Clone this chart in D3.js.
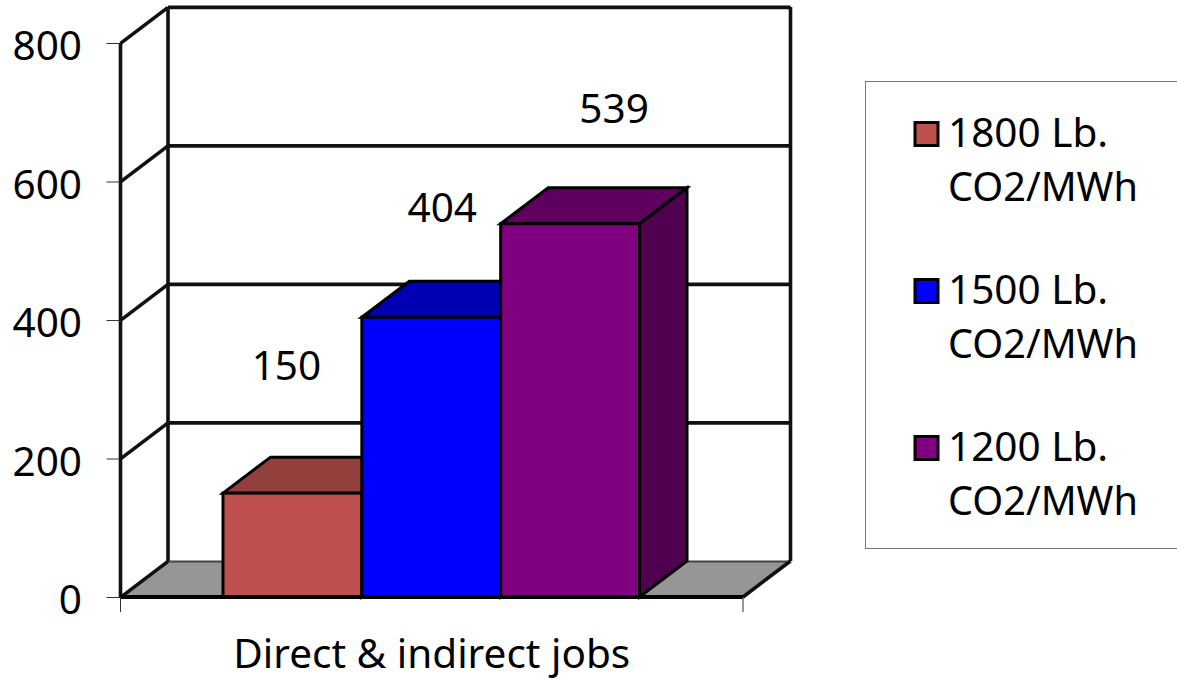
<!DOCTYPE html>
<html><head><meta charset="utf-8">
<script src="https://cdn.jsdelivr.net/npm/d3@7/dist/d3.min.js"></script>
<style>html,body{margin:0;padding:0;background:#fff}svg{display:block}text{font-family:"Noto Sans","DejaVu Sans",sans-serif;fill:#000}</style>
</head><body><svg id="c" width="1177" height="679"></svg>
<script>
const category = "Direct & indirect jobs";
const series = ["1800 Lb. CO2/MWh","1500 Lb. CO2/MWh","1200 Lb. CO2/MWh"];
const values = [150,404,539];
const yTicks = [0,200,400,600,800];
const fronts = ["#c0504d","#0000ff","#800080"];
const tops = ["#933f3c","#0000b3","#5f005f"];
const sides = ["#7d3432","#000080","#4f004f"];

const svg = d3.select("#c");
const fs = 40.5, dx = 47.5, dy = -36;
const y = d3.scaleLinear().domain([0,800]).range([597,43]);
const x0 = d3.scaleBand().domain([category]).range([120.5,743]);
const bx = d3.scaleBand().domain(series).range([223,639.5]);
const ink = "#111";
const poly = pts => pts.map(p=>p.join(",")).join(" ");
const L = x0.range()[0], R = x0.range()[1], Y0 = y(0);

// floor
svg.append("polygon").attr("points",poly([[L,Y0],[L+dx,Y0+dy],[R+dx,Y0+dy],[R,Y0]])).attr("fill","#969696");

// walls + gridlines
const wall = svg.append("g").attr("stroke",ink).attr("stroke-width",3.6).attr("fill","none");
yTicks.forEach(t=>{
  const v=y(t)+0.4;
  if(t>0) wall.append("line").attr("x1",L+dx).attr("x2",R+dx).attr("y1",v+dy).attr("y2",v+dy);
  else wall.append("line").attr("x1",L+dx).attr("x2",R+dx).attr("y1",v+dy).attr("y2",v+dy).attr("stroke-width",2).attr("stroke","#444");
  wall.append("line").attr("x1",L).attr("y1",v).attr("x2",L+dx).attr("y2",v+dy);
});
wall.append("line").attr("x1",L+dx).attr("x2",L+dx).attr("y1",y(800)+dy).attr("y2",Y0+dy);
wall.append("line").attr("x1",R+dx).attr("x2",R+dx).attr("y1",y(800)+dy).attr("y2",Y0+dy);
wall.append("line").attr("x1",L).attr("x2",L).attr("y1",y(800)).attr("y2",Y0);
wall.append("line").attr("x1",R).attr("y1",Y0).attr("x2",R+dx).attr("y2",Y0+dy);

// bars
const bars = svg.append("g").attr("stroke","#000").attr("stroke-width",3).attr("stroke-linejoin","miter");
series.forEach((s,i)=>{
  const a=bx(s), b=a+bx.bandwidth(), t=y(values[i]);
  bars.append("polygon").attr("points",poly([[a,t],[a+dx,t+dy],[b+dx,t+dy],[b,t]])).attr("fill",tops[i]);
  bars.append("polygon").attr("points",poly([[b,t],[b+dx,t+dy],[b+dx,Y0+dy],[b,Y0]])).attr("fill",sides[i]);
  bars.append("rect").attr("x",a).attr("y",t).attr("width",b-a).attr("height",Y0-t).attr("fill",fronts[i]);
});

// front baseline
svg.append("line").attr("x1",L).attr("x2",R).attr("y1",Y0).attr("y2",Y0).attr("stroke","#000").attr("stroke-width",4);

// axes
const yAxis = d3.axisLeft(y).tickValues(yTicks).tickSize(14).tickPadding(24.5).tickFormat(d3.format("d"));
const gy = svg.append("g").attr("transform",`translate(${L},0)`).call(yAxis);
gy.select(".domain").remove();
gy.selectAll("line").attr("stroke","#333").attr("stroke-width",1);
gy.selectAll("text").attr("font-size",fs).attr("dy","0.41em").style("font-family",'"Noto Sans"');

const xTickPos = [L,R];
svg.selectAll(".xt").data(xTickPos).join("line").attr("class","xt")
  .attr("x1",d=>d).attr("x2",d=>d).attr("y1",Y0).attr("y2",Y0+15).attr("stroke","#333").attr("stroke-width",1);
svg.append("text").attr("x",x0(category)+x0.bandwidth()/2).attr("y",668).attr("text-anchor","middle").attr("font-size",fs).text(category);

// data labels
const labelDX=[-6,11,44], labelDY=[-113,-95,-101];
svg.selectAll(".dl").data(values).join("text").attr("class","dl")
  .attr("x",(d,i)=>bx(series[i])+bx.bandwidth()/2+labelDX[i])
  .attr("y",(d,i)=>y(d)+labelDY[i])
  .attr("text-anchor","middle").attr("font-size",fs).text(d=>d);

// legend
svg.append("rect").attr("x",865.5).attr("y",81.5).attr("width",330).attr("height",467).attr("fill","#fff").attr("stroke","#777").attr("stroke-width",1);
const ly = d3.scalePoint().domain(series).range([147,304+ (304-147)]);
series.forEach((s,i)=>{
  const base = ly(s), parts = [s.slice(0,s.indexOf(". ")+1), s.slice(s.indexOf(". ")+2)];
  svg.append("rect").attr("x",915).attr("y",base-24.5).attr("width",23).attr("height",23).attr("fill",fronts[i]).attr("stroke","#000").attr("stroke-width",3);
  svg.append("text").attr("x",948).attr("y",base).attr("font-size",fs).text(parts[0]);
  svg.append("text").attr("x",948).attr("y",base+54).attr("font-size",fs).attr("textLength",190).attr("lengthAdjust","spacingAndGlyphs").text(parts[1]);
});
</script></body></html>
